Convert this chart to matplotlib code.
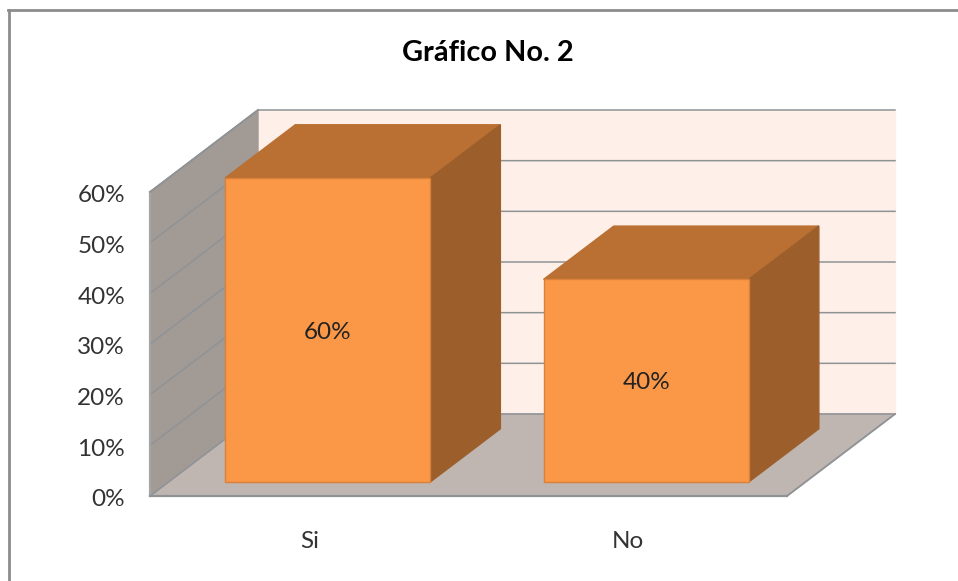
import matplotlib
matplotlib.use("Agg")
import matplotlib.pyplot as plt
from matplotlib.patches import Polygon
from matplotlib.transforms import ScaledTranslation

plt.rcParams['font.family'] = ['Lato', 'DejaVu Sans']

categories = ["Si", "No"]
values = [0.60, 0.40]
value_labels = ["60%", "40%"]
y_ticks = [0, 0.1, 0.2, 0.3, 0.4, 0.5, 0.6]
y_labels = ["0%", "10%", "20%", "30%", "40%", "50%", "60%"]

W, H = 958, 581

# depth of the 3d box, in data units
DX = 108 / 318.5
DY = 82 / 304 * 0.6
BAR_W = 0.644
D_FRONT = 0.17
D_BACK = 0.82

FRONT = "#fb9847"
TOP = "#b97032"
SIDE = "#9c5f2b"
EDGE = "#d9803a"
WALL = "#a29a95"
FLOOR = "#bfb5b1"
BACK = "#fef0e8"
GRID = "#8f9396"


def pr(x, y, d):
    return (x + d * DX, y + d * DY)


def face(ax, pts, color, edge=None, z=1, lw=1.0):
    ax.add_patch(Polygon(pts, closed=True, facecolor=color, edgecolor=edge or color,
                         linewidth=lw, clip_on=False, zorder=z))


def main():
    fig = plt.figure(figsize=(W / 100, H / 100), dpi=100)
    fig.patch.set_facecolor("white")

    # border of the chart area
    fig.add_artist(plt.Line2D([9 / W, 9 / W], [0, 1 - 10 / H], color="#8c8c8c", lw=2))
    fig.add_artist(plt.Line2D([8 / W, 1], [1 - 10 / H, 1 - 10 / H], color="#8c8c8c", lw=2))

    ax = fig.add_axes([150 / W, 1 - 496 / H, 637 / W, 304 / H])
    ax.set_xlim(-0.5, 1.5)
    ax.set_ylim(0, 0.6)
    ax.patch.set_visible(False)
    for s in ax.spines.values():
        s.set_visible(False)

    x0, x1 = ax.get_xlim()
    y0, y1 = ax.get_ylim()

    # back wall, floor, side wall
    face(ax, [pr(x0, y0, 1), pr(x1, y0, 1), pr(x1, y1, 1), pr(x0, y1, 1)], BACK, z=1)
    face(ax, [pr(x0, y0, 0), pr(x1, y0, 0), pr(x1, y0, 1), pr(x0, y0, 1)], FLOOR, z=1)
    face(ax, [pr(x0, y0, 0), pr(x0, y0, 1), pr(x0, y1, 1), pr(x0, y1, 0)], WALL, z=1)

    # gridlines, wrapped round the side wall and the back wall
    for t in y_ticks:
        xs = [pr(x0, t, 0)[0], pr(x0, t, 1)[0], pr(x1, t, 1)[0]]
        ys = [pr(x0, t, 0)[1], pr(x0, t, 1)[1], pr(x1, t, 1)[1]]
        ax.plot(xs, ys, color=GRID, lw=1.1, clip_on=False, zorder=2)

    # box edges
    ax.plot([x0, x0], [y0, y1], color="#a3a5a7", lw=1.6, clip_on=False, zorder=2)
    ax.plot([x0, x1], [y0, y0], color=GRID, lw=1.6, clip_on=False, zorder=2)
    p, q = pr(x1, y0, 0), pr(x1, y0, 1)
    ax.plot([p[0], q[0]], [p[1], q[1]], color=GRID, lw=1.3, clip_on=False, zorder=2)
    p, q = pr(x0, y1, 0), pr(x0, y1, 1)
    ax.plot([p[0], q[0]], [p[1], q[1]], color=GRID, lw=1.3, clip_on=False, zorder=2)

    # text sits a little lower than matplotlib centres it
    down = ScaledTranslation(0, -2 / 100, fig.dpi_scale_trans)

    # bars
    for i, v in enumerate(values):
        l, r = i - BAR_W / 2, i + BAR_W / 2
        face(ax, [pr(l, v, D_FRONT), pr(r, v, D_FRONT), pr(r, v, D_BACK), pr(l, v, D_BACK)],
             TOP, z=3)
        face(ax, [pr(r, 0, D_FRONT), pr(r, 0, D_BACK), pr(r, v, D_BACK), pr(r, v, D_FRONT)],
             SIDE, z=3)
        face(ax, [pr(l, 0, D_FRONT), pr(r, 0, D_FRONT), pr(r, v, D_FRONT), pr(l, v, D_FRONT)],
             FRONT, edge=EDGE, z=4, lw=1.0)
        cx, cy = pr(i, v / 2, D_FRONT)
        ax.text(cx, cy, value_labels[i], ha="center", va="center", fontsize=17.5,
                color="#222222", zorder=5, transform=ax.transData + down)

    ax.set_yticks(y_ticks)
    ax.set_yticklabels(y_labels, fontsize=17.5, color="#333333")
    ax.set_xticks(range(len(categories)))
    ax.set_xticklabels(categories, fontsize=17.5, color="#333333")
    ax.tick_params(axis="both", length=0)
    ax.tick_params(axis="y", pad=18)
    ax.tick_params(axis="x", pad=25.5)
    for lab in ax.get_yticklabels():
        lab.set_transform(lab.get_transform() + down)

    fig.text(488 / W, 1 - 53 / H, "Gráfico No. 2", ha="center", va="center",
             fontsize=20.8, fontweight="bold", color="black")

    fig.savefig("out.png", dpi=100)


if __name__ == '__main__':
    main()
